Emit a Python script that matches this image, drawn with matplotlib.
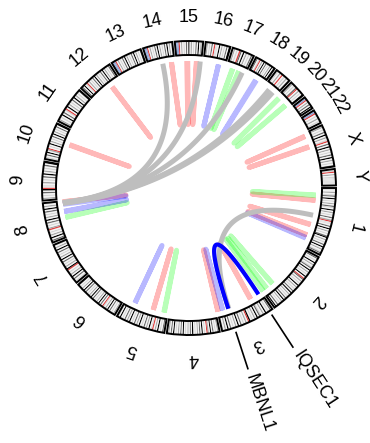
import numpy as np
import matplotlib.pyplot as plt
from matplotlib.patches import Wedge

plt.rcParams['font.family'] = ['Liberation Sans', 'DejaVu Sans']

# chromosomes and lengths (Mb)
chroms = ['1', '2', '3', '4', '5', '6', '7', '8', '9', '10', '11', '12',
          '13', '14', '15', '16', '17', '18', '19', '20', '21', '22', 'X', 'Y']
chrom_len = [249.3, 243.2, 198.0, 191.2, 180.9, 171.1, 159.1, 146.4, 141.2,
             135.5, 135.0, 133.9, 115.2, 107.3, 102.5, 90.4, 81.2, 78.1,
             59.1, 63.0, 48.1, 51.3, 155.3, 59.4]

# band stains, equal width bands along each chromosome
# 0 gneg, 1 gpos25, 2 gpos50, 3 gpos75, 4 gpos100, c acen, v gvar, s stalk
bands = ["01020130401020310402010302cvv0304020103402010304020130",
         "03010402013040201040c30201040201030402010304020103040",
         "0301040201304020104c02010304020103040201",
         "0201030402c010403020104030201040302010403020",
         "030104020c10402030104020301040203010402",
         "020103040201c03040201030402010304020103",
         "01030402010c402010304020103040201",
         "030402010c2010304020103040201",
         "02010304cvv0201030402010304",
         "01030402c01040201030402010304",
         "0201040301c0402010304020103",
         "030401c02010304020103040201030",
         "sssc0201030402010304020103",
         "sssc02010304020103040201",
         "sssc0201030402010304020",
         "0201030cvv0402010304",
         "02010c3040201030",
         "0301c02040301020403",
         "01020c010201",
         "020103c020104",
         "ssc0203040",
         "ssc0102010",
         "020103040201c030402010304020103",
         "01c0201vvvvv0"]
stain_col = {'0': '#F4F4F4', '1': '#D6D6D6', '2': '#A8A8A8', '3': '#6A6A6A',
             '4': '#000000', 'c': '#E04040', 'v': '#E2E2E2', 's': '#90A8D8'}

# links: chromosome / position (Mb) of both ends and colour group
link_chr1 = ['12', '14', '15', '15', 'X', 'X', '1', '1', '1', '8', '10', '5', '3', '3',
             '17', '17', '20', '20', '1', '8', '5', '2', '2', '2',
             '16', '18', '1', '8', '8', '5', '3',
             '14', '15', '17', '19', '19', '1']
link_pos1 = [92, 94, 42, 82, 11, 58, 50, 153, 199, 143, 77, 61, 196, 50,
             24, 52, 8, 48, 29, 77, 14, 191, 222, 240,
             63, 41, 211, 133, 102, 142, 176,
             58, 98, 68, 23, 42, 114]
link_pos2 = [93, 95, 46, 83, 13, 60, 52, 155, 201, 144, 79, 62, 197, 52,
             26, 54, 10, 50, 31, 79, 16, 193, 224, 242,
             64, 45, 214, 137, 104, 143, 177,
             58, 98, 68, 23, 42, 114]
link_chr2 = link_chr1[:31] + ['8', '8', '8', '8', '8', '3']
link_pos2 = link_pos2[:31] + [140, 139, 141, 138, 137, 150]
link_kind = ['red'] * 14 + ['green'] * 10 + ['blue'] * 7 + ['gray'] * 6

# highlighted fusion
fusion_genes = ['IQSEC1', 'MBNL1']
fusion_chr = ['3', '3']
fusion_pos = [12.9, 152.0]

kind_col = {'red': (1, 0, 0, 0.28), 'green': (0, 1, 0, 0.28),
            'blue': (0, 0, 1, 0.28), 'gray': '#BEBEBE'}

W, H = 370, 443
cx, cy = 189, 188
r_out, r_in = 147, 133
r_link = 127
r_lab = 171
gap = 1.0
scale = (360 - gap * len(chroms)) / sum(chrom_len)

starts = {}
a = 0.0
for c, L in zip(chroms, chrom_len):
    starts[c] = a
    a += L * scale + gap


def ang(c, pos):
    return starts[c] + pos * scale


def xy(a, r):
    t = np.deg2rad(a)
    return cx + r * np.cos(t), cy + r * np.sin(t)


def link(a1, a2, **kw):
    p0 = np.array(xy(a1, r_link))
    p2 = np.array(xy(a2, r_link))
    c = np.array([cx, cy])
    t = np.linspace(0, 1, 80)[:, None]
    pts = (1 - t) ** 2 * p0 + 2 * (1 - t) * t * c + t ** 2 * p2
    ax.plot(pts[:, 0], pts[:, 1], solid_capstyle='butt', **kw)


fig = plt.figure(figsize=(3.7, 4.43), dpi=100)
ax = fig.add_axes([0, 0, 1, 1])
ax.set_xlim(0, W)
ax.set_ylim(H, 0)
ax.axis('off')

# ideogram
for c, L, st in zip(chroms, chrom_len, bands):
    a0 = starts[c]
    bw = L * scale / len(st)
    for i, s in enumerate(st):
        ax.add_patch(Wedge((cx, cy), r_out, a0 + i * bw, a0 + (i + 1) * bw,
                           width=r_out - r_in, facecolor=stain_col[s],
                           edgecolor='none'))
    ax.add_patch(Wedge((cx, cy), r_out, a0, a0 + L * scale, width=r_out - r_in,
                       fill=False, edgecolor='black', lw=1.4))
    mid = a0 + L * scale / 2
    x, y = xy(mid, r_lab)
    ax.text(x, y, c, fontsize=13, rotation=-mid - 90, ha='center',
            va='center', rotation_mode='anchor')

# links
for k in ['red', 'green', 'blue', 'gray']:
    for c1, p1, c2, p2, kk in zip(link_chr1, link_pos1, link_chr2, link_pos2, link_kind):
        if kk == k:
            link(ang(c1, p1), ang(c2, p2), color=kind_col[k], lw=3.6)

fa = [ang(c, p) for c, p in zip(fusion_chr, fusion_pos)]
link(fa[0], fa[1], color='#0000FF', lw=3.0)

# gene labels
for g, a in zip(fusion_genes, fa):
    x0, y0 = xy(a, 152)
    x1, y1 = xy(a, 190)
    ax.plot([x0, x1], [y0, y1], color='black', lw=1.2)
    x, y = xy(a, 196)
    ax.text(x, y, g, fontsize=13, rotation=-a, ha='left', va='center',
            rotation_mode='anchor')

fig.savefig('out.png', dpi=100)
